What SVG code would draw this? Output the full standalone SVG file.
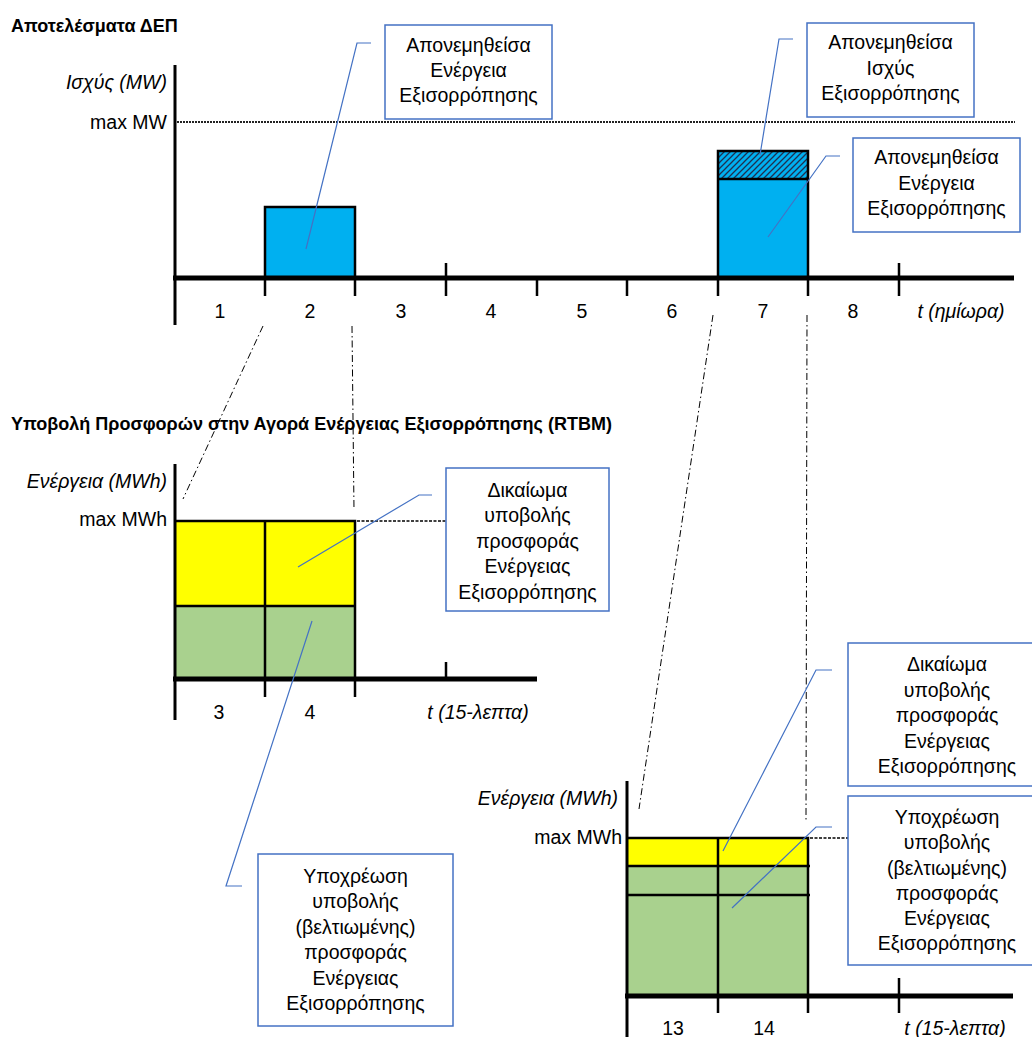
<svg xmlns="http://www.w3.org/2000/svg" width="1032" height="1037" viewBox="0 0 1032 1037">
<style>
text{font-family:"Liberation Sans",Arial,sans-serif;fill:#000}
.t{font-size:18px;font-weight:bold}
.l{font-size:19.5px}
.c{font-size:19.5px;text-anchor:middle}
.i{font-size:19.5px;font-style:italic}
.e{text-anchor:end}
.ax{stroke:#000;stroke-width:3;fill:none}
.xa{stroke:#000;stroke-width:5;fill:none}
.tk{stroke:#000;stroke-width:2.5;fill:none}
.box{fill:#fff;stroke:#4472C4;stroke-width:1.5}
.ld{fill:none;stroke:#4472C4;stroke-width:1.2}
.dd{fill:none;stroke:#000;stroke-width:1;stroke-dasharray:7 3 1.5 3}
.dot{fill:none;stroke:#000;stroke-width:1.3;stroke-dasharray:3 1.5}
.mx{fill:none;stroke:#222;stroke-width:2.2;stroke-dasharray:2 1}
.blue{fill:#00B0F0;stroke:#000;stroke-width:2.5}
.yel{fill:#FFFF00}
.grn{fill:#A9D18E}
</style>
<defs>
<pattern id="hatch" patternUnits="userSpaceOnUse" width="6" height="6">
<rect width="6" height="6" fill="#00B0F0"/>
<path d="M-1,1 L1,-1 M0,6 L6,0 M5,7 L7,5" stroke="#1F3050" stroke-width="1.3"/>
</pattern>
</defs>

<text class="t" x="11" y="32">Αποτελέσματα ΔΕΠ</text>
<text class="t" x="11" y="430">Υποβολή Προσφορών στην Αγορά Ενέργειας Εξισορρόπησης (RTBM)</text>

<g id="chart-top">
<text class="i e" x="167" y="89">Ισχύς (MW)</text>
<text class="l e" x="167" y="129">max MW</text>
<line class="mx" x1="177" y1="122" x2="1015" y2="122"/>
<rect class="blue" x="265" y="207" width="90" height="71"/>
<rect x="718" y="151" width="90" height="127" fill="#00B0F0"/>
<rect x="718" y="151" width="90" height="28" fill="url(#hatch)"/>
<path d="M718,278 V151 H808 V278 M718,179 H808" fill="none" stroke="#000" stroke-width="2.5"/>
<line class="ax" x1="175" y1="65" x2="175" y2="325"/>
<line class="xa" x1="173" y1="278" x2="1014" y2="278"/>
<path class="tk" d="M265,278V296 M355,278V296 M446,263V296 M537,278V296 M627,278V296 M718,278V296 M808,278V296 M899,263V296"/>
<text class="c" x="220" y="318">1</text>
<text class="c" x="310" y="318">2</text>
<text class="c" x="401" y="318">3</text>
<text class="c" x="491" y="318">4</text>
<text class="c" x="582" y="318">5</text>
<text class="c" x="672" y="318">6</text>
<text class="c" x="763" y="318">7</text>
<text class="c" x="853" y="318">8</text>
<text class="i" x="961" y="318" text-anchor="middle">t (ημίωρα)</text>
</g>

<g id="chart-mid">
<text class="i e" x="167" y="488">Ενέργεια (MWh)</text>
<text class="l e" x="167" y="526">max MWh</text>
<rect class="yel" x="175" y="521" width="180" height="85"/>
<rect class="grn" x="175" y="606" width="180" height="73"/>
<path d="M175,521 H355 V697 M265,521 V697 M175,606 H355" fill="none" stroke="#000" stroke-width="2.5"/>
<line class="dot" x1="357" y1="521" x2="446" y2="521"/>
<line class="ax" x1="175" y1="464" x2="175" y2="720"/>
<line class="xa" x1="173" y1="679" x2="537" y2="679"/>
<line class="tk" x1="446" y1="662" x2="446" y2="679"/>
<text class="c" x="219" y="719">3</text>
<text class="c" x="310" y="719">4</text>
<text class="i" x="478" y="719" text-anchor="middle">t (15-λεπτα)</text>
</g>

<g id="chart-bot">
<text class="i e" x="618" y="805">Ενέργεια (MWh)</text>
<text class="l e" x="622" y="844">max MWh</text>
<rect class="yel" x="626" y="838" width="182" height="28"/>
<rect class="grn" x="626" y="866" width="182" height="130"/>
<path d="M626,838 H808 V1013 M718,838 V1013 M626,866 H810 M626,895 H810" fill="none" stroke="#000" stroke-width="2.5"/>
<line class="dot" x1="810" y1="838" x2="848" y2="838"/>
<line class="ax" x1="627" y1="781" x2="627" y2="1037"/>
<line class="xa" x1="625" y1="996" x2="1013" y2="996"/>
<line class="tk" x1="899" y1="978" x2="899" y2="1013"/>
<text class="c" x="673" y="1035">13</text>
<text class="c" x="764" y="1035">14</text>
<text class="i" x="955" y="1035" text-anchor="middle">t (15-λεπτα)</text>
</g>

<g id="connectors">
<line class="dd" x1="263" y1="326" x2="183" y2="499"/>
<line class="dd" x1="352" y1="326" x2="354" y2="510"/>
<line class="dd" x1="713" y1="315" x2="639" y2="809"/>
<line class="dd" x1="807" y1="315" x2="806" y2="822"/>
<polyline class="ld" points="371,43 357,43 306,249"/>
<polyline class="ld" points="793,39 779,39 760,155"/>
<polyline class="ld" points="840,156 826,156 768,237"/>
<polyline class="ld" points="432,495 419,495 298,567"/>
<polyline class="ld" points="312,621 226,886 242,886"/>
<polyline class="ld" points="832,670 816,670 723,851"/>
<polyline class="ld" points="832,827 816,827 732,908"/>
</g>

<g id="callout-1">
<rect class="box" x="385" y="25" width="167" height="94"/>
<text class="c" x="468.5" y="52">Απονεμηθείσα</text>
<text class="c" x="468.5" y="77">Ενέργεια</text>
<text class="c" x="468.5" y="102">Εξισορρόπησης</text>
</g>
<g id="callout-2">
<rect class="box" x="807" y="23" width="167" height="94"/>
<text class="c" x="890.5" y="49">Απονεμηθείσα</text>
<text class="c" x="890.5" y="75">Ισχύς</text>
<text class="c" x="890.5" y="100">Εξισορρόπησης</text>
</g>
<g id="callout-3">
<rect class="box" x="853" y="138" width="167" height="94"/>
<text class="c" x="936.5" y="164">Απονεμηθείσα</text>
<text class="c" x="936.5" y="190">Ενέργεια</text>
<text class="c" x="936.5" y="215">Εξισορρόπησης</text>
</g>
<g id="callout-4">
<rect class="box" x="446" y="468" width="163" height="143"/>
<text class="c" x="527.5" y="497">Δικαίωμα</text>
<text class="c" x="527.5" y="522">υποβολής</text>
<text class="c" x="527.5" y="548">προσφοράς</text>
<text class="c" x="527.5" y="573">Ενέργειας</text>
<text class="c" x="527.5" y="599">Εξισορρόπησης</text>
</g>
<g id="callout-5">
<rect class="box" x="258" y="854" width="195" height="172"/>
<text class="c" x="355.5" y="883">Υποχρέωση</text>
<text class="c" x="355.5" y="908">υποβολής</text>
<text class="c" x="355.5" y="934">(βελτιωμένης)</text>
<text class="c" x="355.5" y="959">προσφοράς</text>
<text class="c" x="355.5" y="985">Ενέργειας</text>
<text class="c" x="355.5" y="1010">Εξισορρόπησης</text>
</g>
<g id="callout-6">
<rect class="box" x="848" y="643" width="200" height="143"/>
<text class="c" x="947" y="671">Δικαίωμα</text>
<text class="c" x="947" y="697">υποβολής</text>
<text class="c" x="947" y="722">προσφοράς</text>
<text class="c" x="947" y="748">Ενέργειας</text>
<text class="c" x="947" y="773">Εξισορρόπησης</text>
</g>
<g id="callout-7">
<rect class="box" x="848" y="796" width="200" height="169"/>
<text class="c" x="947" y="824">Υποχρέωση</text>
<text class="c" x="947" y="849">υποβολής</text>
<text class="c" x="947" y="875">(βελτιωμένης)</text>
<text class="c" x="947" y="900">προσφοράς</text>
<text class="c" x="947" y="925">Ενέργειας</text>
<text class="c" x="947" y="950">Εξισορρόπησης</text>
</g>
</svg>
